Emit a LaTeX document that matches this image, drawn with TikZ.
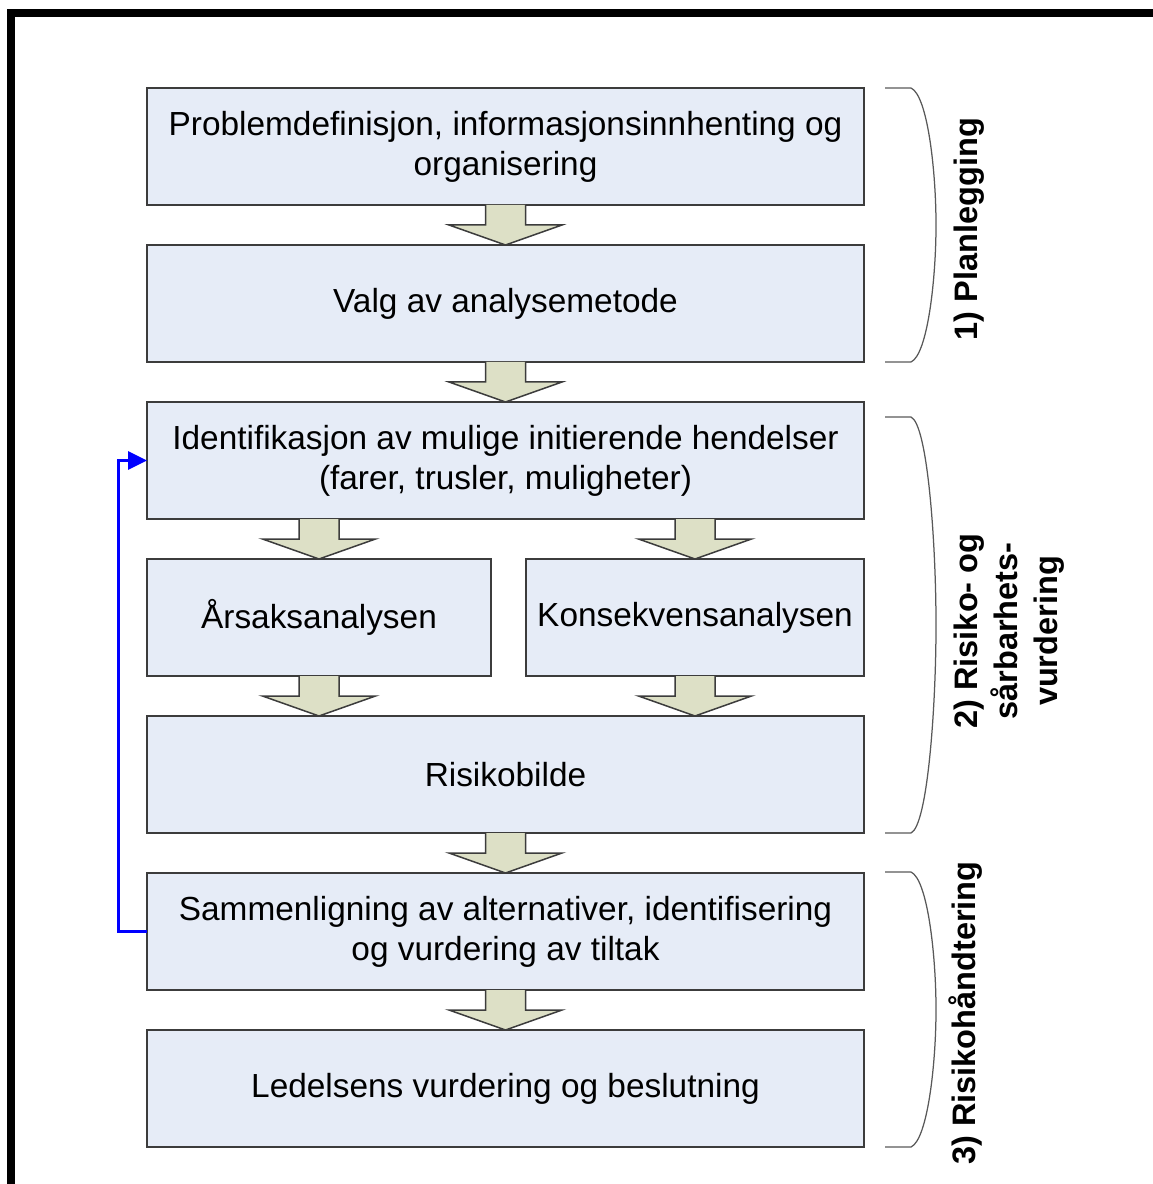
\documentclass[tikz,border=0pt]{standalone}
\usepackage{fontspec}
\setmainfont{Liberation Sans}
\usetikzlibrary{positioning,calc,arrows.meta}

\definecolor{boxfill}{RGB}{230,236,247}
\definecolor{arrowfill}{RGB}{221,224,198}
\definecolor{boxline}{RGB}{60,60,60}

\tikzset{
    % Le style pour les etapes du processus
    step_box/.style={
        draw=boxline,
        fill=boxfill,
        line width=0.04cm,
        minimum width=14.34cm,
        minimum height=2.34cm,
        inner sep=0pt,
        outer sep=0pt,
        align=center,
        font=\fontsize{19}{22.8}\selectfont
    },
    % Le style pour les grosses fleches entre les etapes
    flow_arrow/.style={
        fill=arrowfill,
        draw=boxline,
        line width=0.03cm
    },
    % La boucle de retour (bleue)
    feedback_line/.style={
        draw=blue,
        line width=0.06cm,
        -{Triangle[length=0.38cm,width=0.36cm]}
    },
    % Les parentheses a droite et leurs titres
    phase_brace/.style={
        draw=gray!70!black,
        line width=0.025cm
    },
    phase_label/.style={
        rotate=90,
        align=center,
        font=\fontsize{18.5}{22.8}\selectfont\bfseries
    }
}

% fleche pleine : #1 = depart (bas d'une boite), #2 = pointe
\newcommand{\flowarrow}[2]{%
    \coordinate (fa_tail) at (#1);
    \coordinate (fa_tip) at (#2);
    \path[flow_arrow] ($(fa_tail)+(-0.4,0)$) -- ($(fa_tail)+(-0.4,-0.4)$)
        -- ($(fa_tail)+(-1.13,-0.4)$) -- (fa_tip)
        -- ($(fa_tail)+(1.13,-0.4)$) -- ($(fa_tail)+(0.4,-0.4)$)
        -- ($(fa_tail)+(0.4,0)$);
}

% parenthese : #1 = y du haut, #2 = y du bas
\newcommand{\phasebrace}[2]{%
    \draw[phase_brace] (17.70,#1) -- (18.22,#1)
        .. controls (18.55,{#1-0.15}) and (18.72,{#1-0.3*((#1)-(#2))}) .. (18.72,{((#1)+(#2))/2})
        .. controls (18.72,{#2+0.3*((#1)-(#2))}) and (18.55,{#2+0.15}) .. (18.22,#2)
        -- (17.70,#2);
}

\begin{document}
\begin{tikzpicture}

    \useasboundingbox (0,0) rectangle (23.04,-23.68);

    % --- 1. Cadre (coupe a droite et en bas) ---
    \draw[line width=0.16cm] (0.22,-23.9) -- (0.22,-0.27) -- (23.3,-0.27);

    % --- 2. Les etapes ---
    \node[step_box, anchor=north west] (probdef) at (2.94,-1.76)
        {Problemdefinisjon, informasjonsinnhenting og\\organisering};
    \node[step_box, below=0.8cm of probdef] (metode) {Valg av analysemetode};
    \node[step_box, below=0.8cm of metode] (ident)
        {Identifikasjon av mulige initierende hendelser\\(farer, trusler, muligheter)};
    \node[step_box, minimum width=6.88cm, below right=0.8cm and 0cm of ident.south west] (aarsak) {Årsaksanalysen};
    \node[step_box, minimum width=6.76cm, below left=0.8cm and 0cm of ident.south east] (konsek) {Konsekvensanalysen};
    \node[step_box, below right=0.8cm and 0cm of aarsak.south west] (risiko) {Risikobilde};
    \node[step_box, below=0.8cm of risiko] (sammen)
        {Sammenligning av alternativer, identifisering\\og vurdering av tiltak};
    \node[step_box, below=0.8cm of sammen] (ledelse) {Ledelsens vurdering og beslutning};

    % --- 3. Les fleches ---
    \flowarrow{probdef.south}{metode.north}
    \flowarrow{metode.south}{ident.north}
    \flowarrow{aarsak.north |- ident.south}{aarsak.north}
    \flowarrow{konsek.north |- ident.south}{konsek.north}
    \flowarrow{aarsak.south}{aarsak.south |- risiko.north}
    \flowarrow{konsek.south}{konsek.south |- risiko.north}
    \flowarrow{risiko.south}{sammen.north}
    \flowarrow{sammen.south}{ledelse.north}

    % boucle de retour
    \draw[feedback_line] (sammen.west) -- ++(-0.58,0) |- (ident.west);

    % --- 4. Les phases ---
    \phasebrace{-1.76}{-7.24}
    \phasebrace{-8.34}{-16.66}
    \phasebrace{-17.44}{-22.94}

    \node[phase_label] (plan) at (19.38,-4.58) {1) Planlegging};
    \node[phase_label] (rsv) at (20.18,-12.62) {2) Risiko- og\\sårbarhets-\\vurdering};
    \node[phase_label] (handt) at (19.32,-20.26) {3) Risikohåndtering};

\end{tikzpicture}
\end{document}
